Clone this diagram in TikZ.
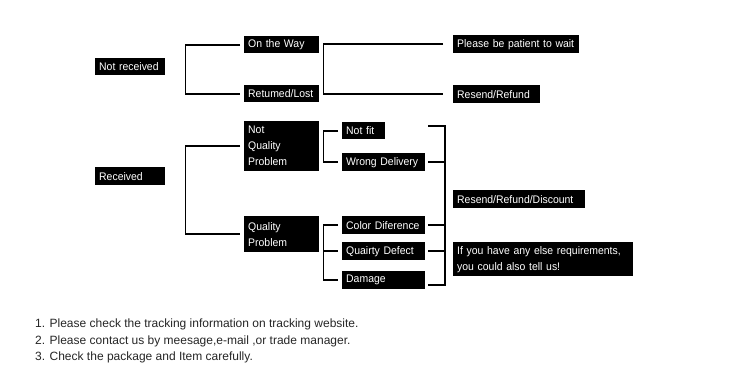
\documentclass[tikz,border=0pt]{standalone}
\usepackage{fontspec}
\setmainfont{Liberation Sans}
\newfontfamily\tagfont[FakeStretch=0.95]{Liberation Sans}
\usepackage{tikz}
\usetikzlibrary{calc}
\tikzset{
  tagbox/.style = {fill=black, text=white, anchor=north west, align=left,
                   inner xsep=4pt, inner ysep=1pt,
                   execute at begin node={\hyphenpenalty=10000\exhyphenpenalty=10000},
                   font=\tagfont\fontsize{11}{16}\selectfont},
  brace/.style  = {draw=black, line width=1.7pt},
  note/.style   = {anchor=north west, align=left, inner sep=0pt, text=black!85,
                   font=\fontsize{12}{16.5}\selectfont},
}
\begin{document}
\begin{tikzpicture}[x=1pt, y=-1pt]
  \useasboundingbox[fill=white] (0,0) rectangle (750,384);

  % not received branch
  \node[tagbox, text width=62pt, minimum height=17pt] (nrec) at (95,58) {Not received};
  \node[tagbox, text width=67pt, minimum height=17pt] (way) at (244,36) {On the Way};
  \node[tagbox, text width=67pt, minimum height=17pt] (lost) at (244,85) {Retumed/Lost};
  \node[tagbox, text width=118pt, minimum height=18pt] (wait) at (453,35) {Please be patient to wait};
  \node[tagbox, text width=79pt, minimum height=18pt] (resend) at (453,85) {Resend/Refund};

  % received branch
  \node[tagbox, text width=62pt, minimum height=18pt] (rec) at (95,167) {Received};
  \node[tagbox, text width=67pt, minimum height=50pt] (nqp) at (244,121) {Not\\Quality\\Problem};
  \node[tagbox, text width=67pt, minimum height=36pt] (qp) at (244,216) {Quality\\Problem};
  \node[tagbox, text width=35pt, minimum height=17pt] (nofit) at (342,122) {Not fit};
  \node[tagbox, text width=75pt, minimum height=18pt] (wrong) at (342,153) {Wrong Delivery};
  \node[tagbox, text width=75pt, minimum height=18pt] (color) at (342,216) {Color Diference};
  \node[tagbox, text width=75pt, minimum height=18pt] (defect) at (342,242) {Quairty Defect};
  \node[tagbox, text width=75pt, minimum height=18pt] (damage) at (342,271) {Damage};
  \node[tagbox, text width=124pt, minimum height=18pt] (discount) at (453,190) {Resend/Refund/Discount};
  \node[tagbox, text width=172pt, minimum height=34pt] (more) at (453,242)
    {If you have any else requirements,\\you could also tell us!};

  % bracket spines
  \coordinate (b1) at ([xshift=20pt]nrec.east);
  \coordinate (b2) at ([xshift=4pt]way.east);
  \coordinate (b3) at ([xshift=20pt]rec.east);
  \coordinate (b4) at ([xshift=4pt]nqp.east);
  \coordinate (b5) at ([xshift=4pt]qp.east);
  \coordinate (rtop) at (445,126);
  \coordinate (rbot) at (445,285);

  \draw[brace, shorten <=4pt, shorten >=4pt]
    (way.west) -- (way.west -| b1) -- (lost.west -| b1) -- (lost.west);
  \draw[brace, shorten <=10pt, shorten >=10pt]
    (wait.west) -- (wait.west -| b2) -- (resend.west -| b2) -- (resend.west);
  \draw[brace, shorten <=4pt, shorten >=4pt]
    (nqp.west) -- (nqp.west -| b3) -- (qp.west -| b3) -- (qp.west);
  \draw[brace, shorten <=4pt, shorten >=4pt]
    (nofit.west) -- (nofit.west -| b4) -- (wrong.west -| b4) -- (wrong.west);
  \draw[brace, shorten <=4pt, shorten >=4pt]
    (color.west) -- (color.west -| b5) -- (damage.west -| b5) -- (damage.west);
  \draw[brace, shorten >=4pt] (defect.west -| b5) -- (defect.west);

  % closing bracket on the right
  \draw[brace, shorten <=3pt, shorten >=3pt]
    (wrong.east |- rtop) -- (rtop) -- (rbot) -- (wrong.east |- rbot);
  \draw[brace, shorten <=3pt] (wrong.east) -- (wrong.east -| rtop);
  \draw[brace, shorten <=3pt] (color.east) -- (color.east -| rtop);
  \draw[brace, shorten <=3pt] (defect.east) -- (defect.east -| rtop);

  \node[note] (tips) at (35,319)
    {1. Please check the tracking information on tracking website.\\
     2. Please contact us by meesage,e-mail ,or trade manager.\\
     3. Check the package and Item carefully.};
\end{tikzpicture}
\end{document}
